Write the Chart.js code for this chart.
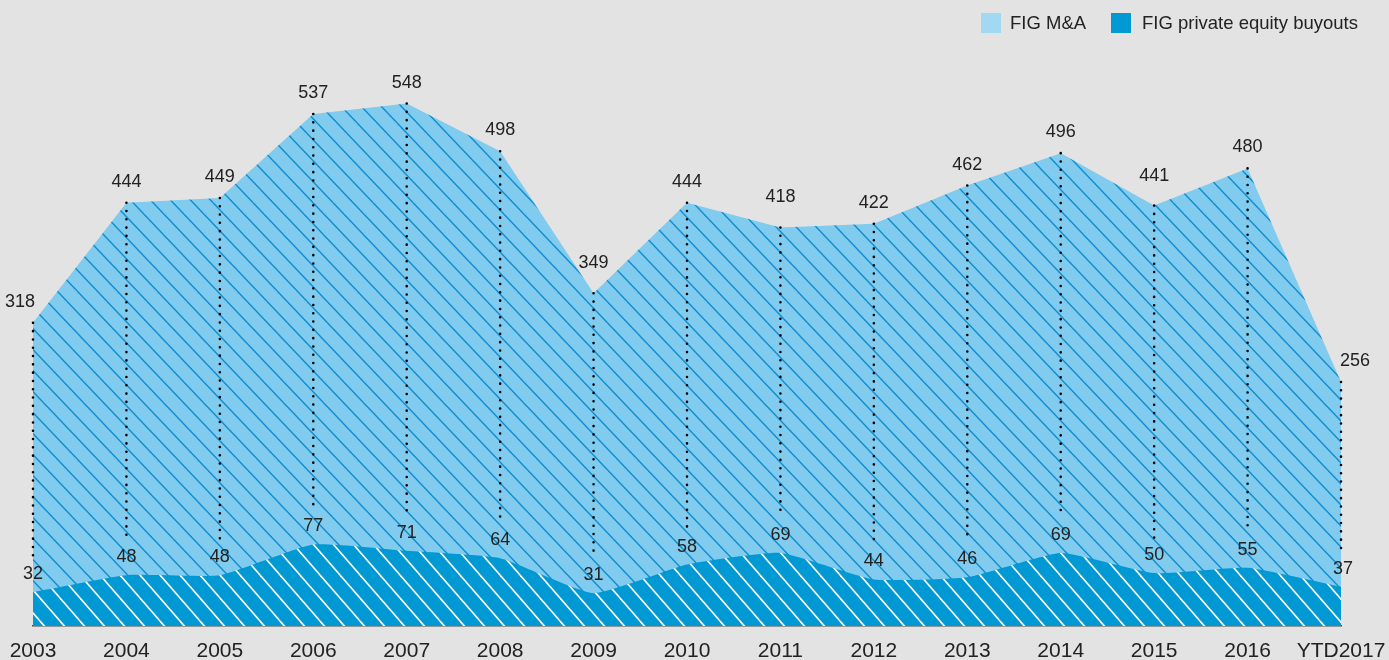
<!DOCTYPE html>
<html>
<head>
<meta charset="utf-8">
<script src="https://cdn.jsdelivr.net/npm/chart.js@4.4.1/dist/chart.umd.min.js"></script>
<style>
  html, body { margin: 0; padding: 0; background: #e3e3e3; }
  #wrap { width: 1389px; height: 660px; position: relative; }
</style>
</head>
<body>
<div id="wrap"><canvas id="c" width="1389" height="660"></canvas></div>
<script>
// ---- data ----
const categories = ['2003','2004','2005','2006','2007','2008','2009','2010','2011','2012','2013','2014','2015','2016','YTD2017'];
const figMA = [318, 444, 449, 537, 548, 498, 349, 444, 418, 422, 462, 496, 441, 480, 256];
const figPE = [32, 48, 48, 77, 71, 64, 31, 58, 69, 44, 46, 69, 50, 55, 37];
const seriesNames = ['FIG M&A', 'FIG private equity buyouts'];

// ---- styles ----
const BG = '#e3e3e3';
const MA_BASE = '#80cbee', MA_LINE = '#0e8ccf';
const PE_BASE = '#0099d4', PE_LINE = '#ffffff';
const TEXT = '#222222';
const FONT = '"Liberation Sans", Arial, sans-serif';

function hatch(base, line, w, h, lw) {
  const c = document.createElement('canvas');
  c.width = w; c.height = h;
  const g = c.getContext('2d');
  g.fillStyle = base; g.fillRect(0, 0, w, h);
  g.strokeStyle = line; g.lineWidth = lw;
  for (const dx of [-w, 0, w]) {
    g.beginPath();
    g.moveTo(dx - w, -h);
    g.lineTo(dx + 2 * w, 2 * h);
    g.stroke();
  }
  return g.createPattern(c, 'repeat');
}

const ctx = document.getElementById('c').getContext('2d');
const maPattern = hatch(MA_BASE, MA_LINE, 20, 21, 1.4);
const pePattern = hatch(PE_BASE, PE_LINE, 20, 23, 1.6);

const bgPlugin = {
  id: 'bg',
  beforeDraw(chart) {
    const g = chart.ctx;
    g.save(); g.fillStyle = BG; g.fillRect(0, 0, chart.width, chart.height); g.restore();
  }
};

const annot = {
  id: 'annot',
  afterDatasetsDraw(chart) {
    const g = chart.ctx;
    const xs = chart.scales.x, ys = chart.scales.y, ys2 = chart.scales.y2;
    g.save();
    // dotted verticals
    g.strokeStyle = '#000';
    g.lineWidth = 2.6;
    g.lineCap = 'round';
    g.setLineDash([0, 8.3]);
    categories.forEach((c, i) => {
      const x = xs.getPixelForValue(i);
      const yTop = ys.getPixelForValue(figMA[i]);
      const yPe = ys2.getPixelForValue(figPE[i]);
      const yEnd = yPe - 35;
      g.beginPath(); g.moveTo(x, yTop); g.lineTo(x, yEnd); g.stroke();
    });
    g.setLineDash([]);
    // labels
    g.fillStyle = TEXT;
    g.font = '18px ' + FONT;
    g.textAlign = 'center';
    g.textBaseline = 'middle';
    categories.forEach((c, i) => {
      let x = xs.getPixelForValue(i);
      const yTop = ys.getPixelForValue(figMA[i]);
      const yPe = ys2.getPixelForValue(figPE[i]);
      let lx = x;
      if (i === 0) lx = x - 13;
      if (i === categories.length - 1) lx = x + 14;
      const off = (figMA[i] < (i > 0 ? figMA[i-1] : 0) && figMA[i] < (figMA[i+1] ?? 0)) ? 30 : 21;
      g.fillText(String(figMA[i]), lx, yTop - off);
      g.fillText(String(figPE[i]), x + (i === categories.length - 1 ? 2 : 0), yPe - 18);
    });
    // legend
    g.font = '18.5px ' + FONT;
    g.textAlign = 'left';
    g.fillStyle = '#a3d8f2'; g.fillRect(981, 13, 20, 20);
    g.fillStyle = TEXT; g.fillText(seriesNames[0], 1010, 24);
    g.fillStyle = PE_BASE; g.fillRect(1111, 13, 20, 20);
    g.fillStyle = TEXT; g.fillText(seriesNames[1], 1142, 24);
    g.restore();
  }
};

new Chart(ctx, {
  type: 'line',
  data: {
    labels: categories,
    datasets: [
      { label: seriesNames[1], data: figPE, yAxisID: 'y2', fill: 'origin', backgroundColor: pePattern,
        borderWidth: 0, borderColor: 'rgba(0,0,0,0)', pointRadius: 0, tension: 0.15, order: 0 },
      { label: seriesNames[0], data: figMA, yAxisID: 'y', fill: 'origin', backgroundColor: maPattern,
        borderWidth: 0, borderColor: 'rgba(0,0,0,0)', pointRadius: 0, tension: 0, order: 1 }
    ]
  },
  options: {
    responsive: false,
    animation: false,
    layout: { padding: { left: 33, right: 48, top: 54, bottom: 0 } },
    plugins: { legend: { display: false }, tooltip: { enabled: false } },
    scales: {
      x: {
        offset: false,
        grid: { display: false, drawTicks: false },
        border: { display: true, color: '#4a4a4a', width: 1.5 },
        ticks: { color: TEXT, font: { family: FONT, size: 21 }, padding: 13, maxRotation: 0, autoSkip: false },
        afterFit(s) { s.height = 34; s.paddingLeft = 0; s.paddingRight = 0; }
      },
      y: { display: false, min: 0, max: 600 },
      y2: { display: false, min: 0, max: 540 }
    }
  },
  plugins: [bgPlugin, annot]
});
</script>
</body>
</html>
